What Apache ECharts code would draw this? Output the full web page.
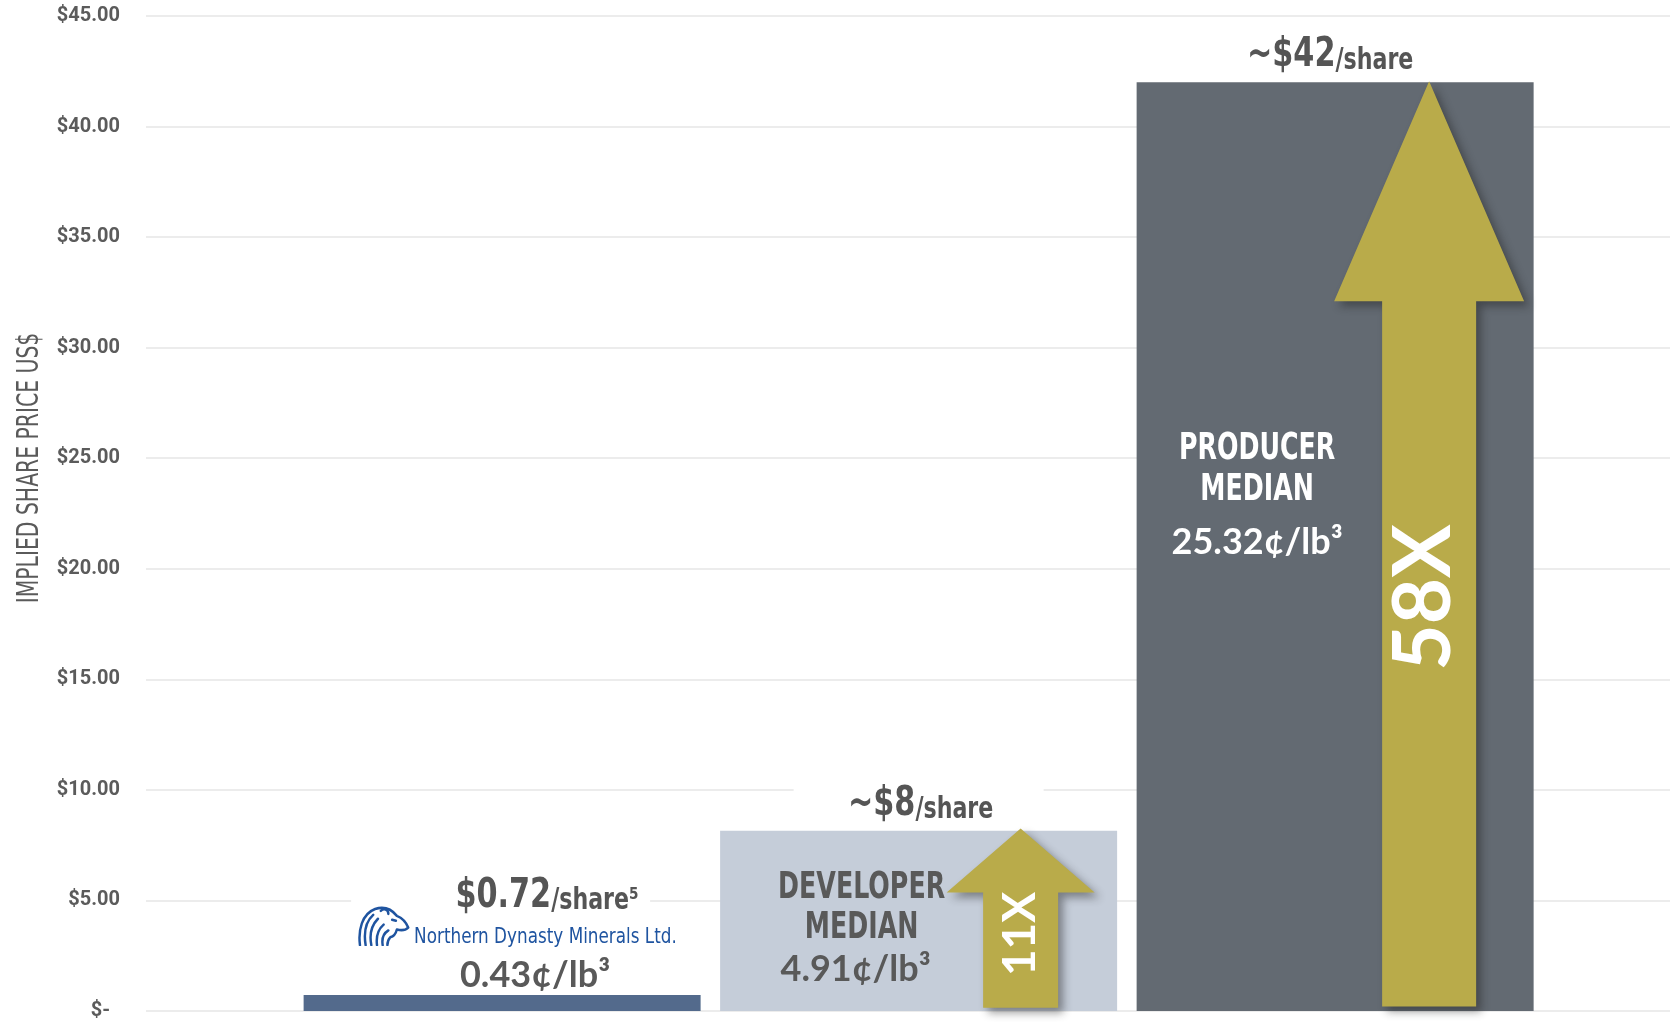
<!DOCTYPE html>
<html>
<head>
<meta charset="utf-8">
<script src="https://cdn.jsdelivr.net/npm/echarts@6/dist/echarts.min.js"></script>
<style>
  html, body { margin: 0; padding: 0; background: #fff; }
  #main { width: 1670px; height: 1022px; }
</style>
</head>
<body>
<div id="main"></div>
<script>
// values
var categories = ['Northern Dynasty Minerals Ltd.', 'Developer median', 'Producer median'];
var sharePrices = [0.72, 8.15, 42];
var priceLabels = ['$0.72', '~$8', '~$42'];
var priceUnits = ['/share⁵', '/share', '/share'];
var valuePerLb = ['0.43¢/lb³', '4.91¢/lb³', '25.32¢/lb³'];
var groupNames = ['', 'DEVELOPER\nMEDIAN', 'PRODUCER\nMEDIAN'];
var yTickLabels = ['$-', '$5.00', '$10.00', '$15.00', '$20.00', '$25.00', '$30.00', '$35.00', '$40.00', '$45.00'];
var yTitle = 'IMPLIED SHARE PRICE US$';

// the "multiple" arrows
var multipleLabels = ['11X', '58X'];
var multipleCats = [1, 2];
var multipleFrom = [0.15, 0.2];
var multipleTo = [8.25, 42.05];

var condensed = '"DejaVu Sans Condensed", "Liberation Sans Narrow", sans-serif';
var rounded = 'Lato, "Open Sans", sans-serif';
var textGray = '#595959';
var barColors = ['#536a8c', '#c5cdd9', '#636a72'];
var gold = '#b9ab4a';

// arrow look, per arrow (px)
var arrowStyle = [
  { dx: 102, head: 64, half: 74, shaft: 37.5, textAt: 0.36, textDx: 0, fontSize: 46 },
  { dx: 94, head: 220, half: 95, shaft: 47, textAt: 0.42, textDx: -5, fontSize: 80 }
];

// annotation layout, px relative to the top centre of each bar
var priceLayout = [
  { dx: 45, dy: -99, box: [-151, -120, 299, 44] },
  { dx: 2, dy: -26, box: [-125, -56, 250, 50] },
  { dx: -5, dy: -27, box: [-125, -56, 250, 50] }
];
var rateLayout = [[33, -20], [-63, 139], [-78, 460]];
var nameLayout = [null, { dx: -57, dy: [58, 98] }, { dx: -78, dy: [367, 408] }];
var noteColors = [textGray, textGray, '#ffffff'];
var logoLayout = { iconDx: -145, iconDy: -90, iconW: 53, iconH: 41, textDx: -88, textDy: -58 };

// small logo mark for Northern Dynasty
var iconSvg = '<svg xmlns="http://www.w3.org/2000/svg" width="56" height="42" viewBox="0 0 56 42">' +
  '<g fill="none" stroke="#1f54a0" stroke-width="2.6" stroke-linecap="round" stroke-linejoin="round">' +
  '<path d="M3 41 C1 26 5 9 19 4 C29 1 37 5 42 11 C47 13 52 18 54 23 C51 26 46 26 42 25 C41 29 39 32 35 33 C33 35 32 38 32 41"/>' +
  '<path d="M9 41 C7 29 9 17 17 10"/>' +
  '<path d="M15 41 C13 31 15 21 22 14"/>' +
  '<path d="M21 41 C20 33 22 25 28 20"/>' +
  '<path d="M27 41 C26 35 28 29 33 26"/>' +
  '<path d="M25 6 C28 3 33 4 33 9"/>' +
  '<path d="M37 15 L41 16"/>' +
  '</g></svg>';
var iconUrl = 'data:image/svg+xml;charset=utf-8,' + encodeURIComponent(iconSvg);

var priceRich = {
  p: { fontFamily: condensed, fontWeight: 'bold', fontSize: 41, fill: '#555', lineHeight: 41, verticalAlign: 'bottom' },
  u: { fontFamily: condensed, fontWeight: 'bold', fontSize: 30, fill: '#555', lineHeight: 33, verticalAlign: 'bottom' }
};

var barData = sharePrices.map(function (v, i) {
  return { value: [i + 1, v], itemStyle: { color: barColors[i] } };
});
var annotData = sharePrices.map(function (v, i) { return [i + 1, v]; });
var arrowData = multipleCats.map(function (c, i) {
  return [c + 1, multipleFrom[i], multipleTo[i]];
});

function renderAnnotation(params, api) {
  var i = params.dataIndex;
  var top = api.coord([api.value(0), api.value(1)]);
  var tx = top[0], ty = top[1];
  var P = priceLayout[i];
  var kids = [];
  kids.push({
    type: 'rect',
    shape: { x: tx + P.box[0], y: ty + P.box[1], width: P.box[2], height: P.box[3] },
    style: { fill: '#fff' }
  });
  kids.push({
    type: 'text', x: tx + P.dx, y: ty + P.dy, scaleX: 0.82,
    style: {
      text: '{p|' + priceLabels[i] + '}{u|' + priceUnits[i] + '}', rich: priceRich,
      align: 'center', verticalAlign: 'middle'
    }
  });
  if (i === 0) {
    kids.push({
      type: 'image',
      style: {
        image: iconUrl, x: tx + logoLayout.iconDx, y: ty + logoLayout.iconDy,
        width: logoLayout.iconW, height: logoLayout.iconH
      }
    });
    kids.push({
      type: 'text', x: tx + logoLayout.textDx, y: ty + logoLayout.textDy, scaleX: 0.85,
      style: {
        text: categories[i], fill: '#1f54a0', fontFamily: condensed, fontSize: 22,
        align: 'left', verticalAlign: 'middle'
      }
    });
  }
  var N = nameLayout[i];
  if (N) {
    groupNames[i].split('\n').forEach(function (line, k) {
      kids.push({
        type: 'text', x: tx + N.dx, y: ty + N.dy[k], scaleX: 0.76,
        style: {
          text: line, fill: noteColors[i], fontFamily: condensed, fontWeight: 'bold', fontSize: 37,
          align: 'center', verticalAlign: 'middle'
        }
      });
    });
  }
  kids.push({
    type: 'text', x: tx + rateLayout[i][0], y: ty + rateLayout[i][1],
    style: {
      text: valuePerLb[i], fill: noteColors[i], fontFamily: rounded, fontWeight: 'bold', fontSize: 36,
      align: 'center', verticalAlign: 'middle'
    }
  });
  return { type: 'group', children: kids };
}

function renderArrow(params, api) {
  var i = params.dataIndex;
  var s = arrowStyle[i];
  var tip = api.coord([api.value(0), api.value(2)]);
  var base = api.coord([api.value(0), api.value(1)]);
  var x = tip[0] + s.dx, yt = tip[1], yb = base[1], yh = yt + s.head;
  var pts = [
    [x, yt], [x + s.half, yh], [x + s.shaft, yh], [x + s.shaft, yb],
    [x - s.shaft, yb], [x - s.shaft, yh], [x - s.half, yh]
  ];
  return {
    type: 'group',
    children: [
      {
        type: 'polygon', shape: { points: pts },
        style: { fill: gold, shadowBlur: 8, shadowOffsetX: 5, shadowOffsetY: 5, shadowColor: 'rgba(30,30,30,0.45)' }
      },
      {
        type: 'text', x: x + s.textDx, y: yh + (yb - yh) * s.textAt, rotation: Math.PI / 2,
        style: {
          text: multipleLabels[i], fill: '#fff', fontFamily: rounded, fontWeight: 'bold',
          fontSize: s.fontSize, align: 'center', verticalAlign: 'middle'
        }
      }
    ]
  };
}

var chart = echarts.init(document.getElementById('main'));
chart.setOption({
  animation: false,
  backgroundColor: '#fff',
  grid: { left: 146, right: 0, top: 16, bottom: 11, outerBoundsMode: 'none' },
  graphic: [{
    type: 'text', x: 30, y: 468, rotation: Math.PI / 2, scaleX: 0.73, silent: true,
    style: {
      text: yTitle, fill: '#5a5a5a', fontFamily: condensed, fontSize: 31,
      align: 'center', verticalAlign: 'middle'
    }
  }],
  xAxis: { type: 'value', min: 0.145, max: 3.804, show: false },
  yAxis: {
    type: 'value', min: 0, max: 45, interval: 5,
    axisLine: { show: false }, axisTick: { show: false },
    axisLabel: {
      margin: 26, fontFamily: 'Roboto', fontWeight: 'bold', fontSize: 20, color: '#5b5b5b',
      formatter: function (v) {
        var s = yTickLabels[Math.round(v / 5)];
        return v === 0 ? s + '  ' : s;
      }
    },
    splitLine: { lineStyle: { color: '#ececec', width: 2 } }
  },
  series: [
    {
      name: 'Implied share price', type: 'bar', barWidth: 397,
      data: barData, silent: true
    },
    {
      name: 'annotations', type: 'custom', clip: false, z: 3, silent: true,
      encode: { x: 0, y: 1 },
      data: annotData,
      renderItem: renderAnnotation
    },
    {
      name: 'multiple', type: 'custom', clip: false, z: 4, silent: true,
      encode: { x: 0, y: [1, 2] },
      data: arrowData,
      renderItem: renderArrow
    }
  ]
});
</script>
</body>
</html>
